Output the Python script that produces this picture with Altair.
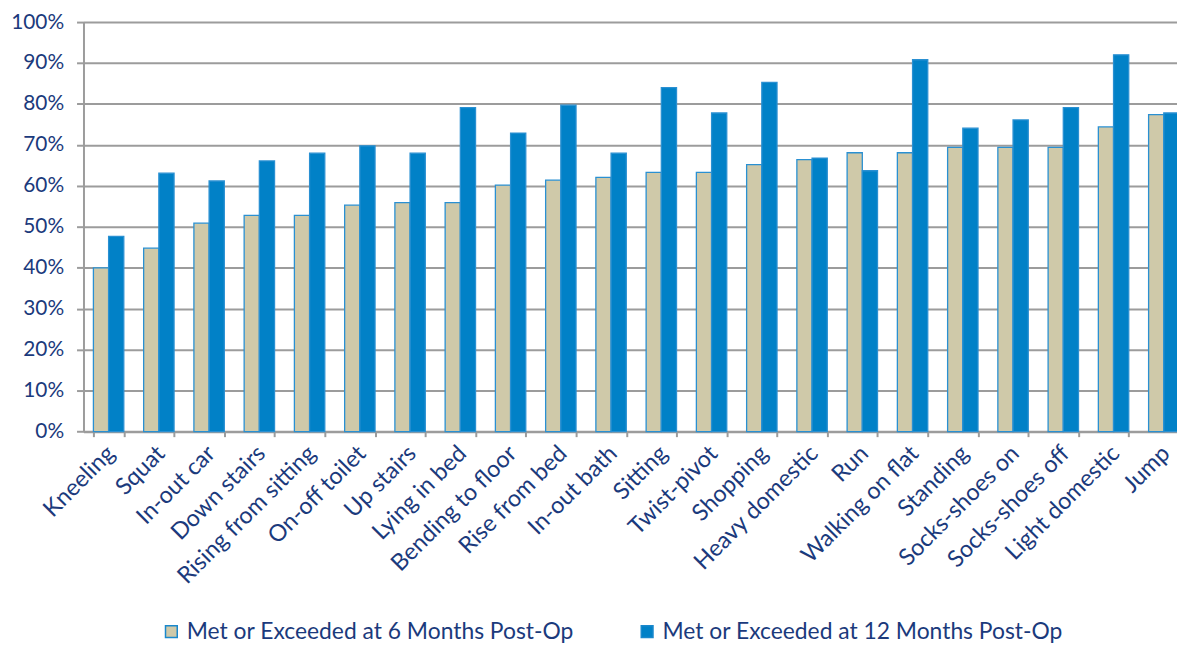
import altair as alt
import pandas as pd

categories = ["Kneeling", "Squat", "In-out car", "Down stairs", "Rising from sitting",
              "On-off toilet", "Up stairs", "Lying in bed", "Bending to floor",
              "Rise from bed", "In-out bath", "Sitting", "Twist-pivot", "Shopping",
              "Heavy domestic", "Run", "Walking on flat", "Standing", "Socks-shoes on",
              "Socks-shoes off", "Light domestic", "Jump"]
six_months = [40.0, 44.8, 50.9, 52.8, 52.8, 55.3, 55.9, 55.9, 60.2, 61.4, 62.1,
              63.3, 63.3, 65.2, 66.4, 68.1, 68.1, 69.4, 69.4, 69.4, 74.4, 77.4]
twelve_months = [47.7, 63.1, 61.2, 66.1, 68.0, 69.8, 68.0, 79.1, 72.9, 79.7, 68.0,
                 84.0, 77.8, 85.3, 66.8, 63.7, 90.8, 74.1, 76.1, 79.1, 92.0, 77.8]
series_names = ["Met or Exceeded at 6 Months Post-Op",
                "Met or Exceeded at 12 Months Post-Op"]
y_ticks = [0, 0.1, 0.2, 0.3, 0.4, 0.5, 0.6, 0.7, 0.8, 0.9, 1.0]

rows = []
for c, a, b in zip(categories, six_months, twelve_months):
    rows.append({"Activity": c, "Series": series_names[0], "Value": a / 100})
    rows.append({"Activity": c, "Series": series_names[1], "Value": b / 100})
df = pd.DataFrame(rows)

NAVY = "#1b3a7c"
GRID = "#9c9c9c"
BEIGE = "#cfc9a9"
BLUE = "#0181c7"
FONT = "Lato"

chart = alt.Chart(df).mark_bar(stroke="#2a90d2", strokeWidth=1.3).encode(
    x=alt.X("Activity:N", sort=categories,
            scale=alt.Scale(paddingInner=0.395, paddingOuter=0.1975),
            axis=alt.Axis(title=None, labelAngle=-45, labelAlign="right",
                          labelBaseline="middle", labelFont=FONT, labelFontSize=23.5,
                          labelColor=NAVY, tickBand="extent", tickSize=5,
                          tickColor=GRID, tickWidth=2, domainColor=GRID,
                          domainWidth=2, labelPadding=13, labelOffset=2,
                          grid=False, labelLimit=400)),
    xOffset=alt.XOffset("Series:N", sort=series_names,
                        scale=alt.Scale(paddingInner=0, paddingOuter=0)),
    y=alt.Y("Value:Q", scale=alt.Scale(domain=[0, 1], nice=False),
            axis=alt.Axis(title=None, format=".0%", values=y_ticks,
                          labelFont=FONT, labelFontSize=21, labelColor=NAVY,
                          gridColor=GRID, gridWidth=2, domainColor=GRID,
                          domainWidth=2, tickColor=GRID, tickWidth=2,
                          tickSize=7, labelPadding=13)),
    color=alt.Color("Series:N", sort=series_names,
                    scale=alt.Scale(domain=series_names, range=[BEIGE, BLUE]),
                    legend=alt.Legend(title=None, orient="none", legendX=77,
                                      legendY=602, direction="horizontal",
                                      symbolType="square", symbolSize=140,
                                      symbolStrokeColor="#1a88cc",
                                      symbolStrokeWidth=1.5,
                                      labelFont=FONT, labelFontSize=23,
                                      labelColor=NAVY, labelLimit=600,
                                      columnPadding=62, labelOffset=4)),
).properties(
    width=1113, height=412.4,
    autosize=alt.AutoSizeParams(type="none"),
    padding={"left": 76, "top": 12, "right": -12, "bottom": 211.6},
).configure_view(strokeWidth=0)

chart.save("out.html", embed_options={"renderer": "svg", "actions": False})
